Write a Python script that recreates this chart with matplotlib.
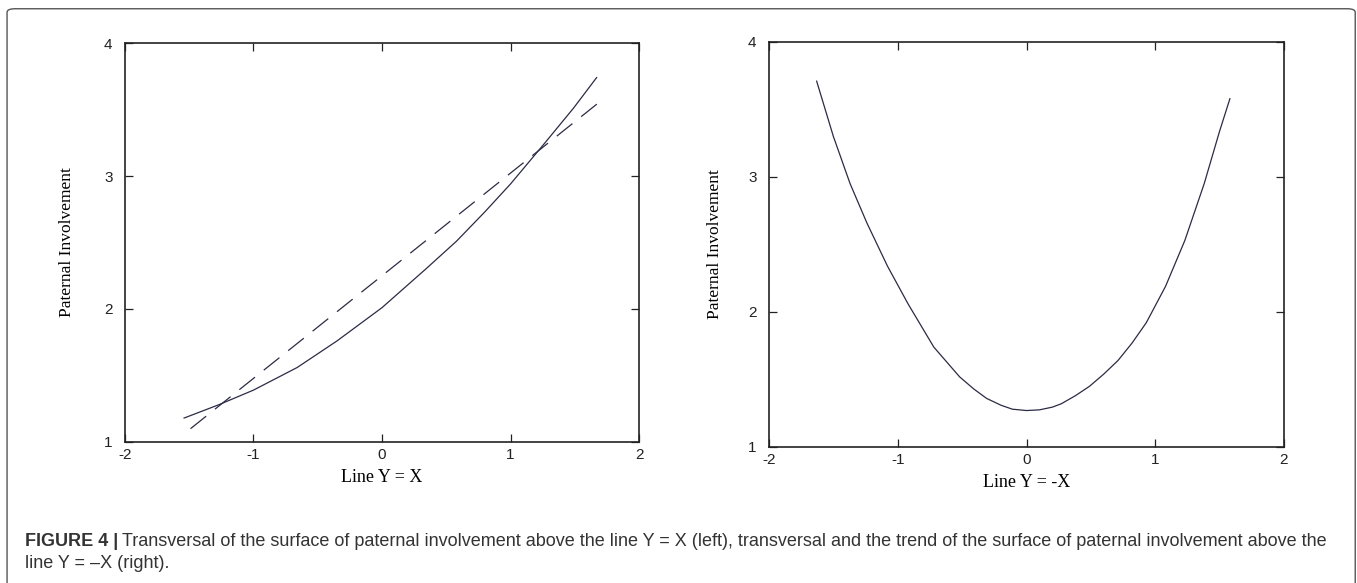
import matplotlib.pyplot as plt
from matplotlib.patches import FancyBboxPatch

plt.rcParams['axes.unicode_minus'] = False

# Left panel: transversal above the line Y = X (solid) and linear trend (dashed)
left_x = [-1.54, -1.27, -1.00, -0.66, -0.35, 0.00, 0.34, 0.58, 0.80, 1.00, 1.26, 1.49, 1.67]
left_y = [1.18, 1.28, 1.39, 1.56, 1.76, 2.01, 2.30, 2.51, 2.73, 2.94, 3.24, 3.51, 3.74]
trend_x = [-1.49, 1.71]
trend_y = [1.10, 3.57]

# Right panel: transversal above the line Y = -X
right_x = [-1.63, -1.50, -1.37, -1.24, -1.08, -0.92, -0.72, -0.52, -0.41, -0.31, -0.20, -0.11,
           0.00, 0.10, 0.20, 0.27, 0.38, 0.49, 0.60, 0.71, 0.82, 0.93, 1.08, 1.23, 1.38, 1.50, 1.58]
right_y = [3.71, 3.30, 2.95, 2.66, 2.34, 2.06, 1.74, 1.52, 1.43, 1.36, 1.31, 1.28,
           1.27, 1.275, 1.295, 1.32, 1.38, 1.45, 1.54, 1.64, 1.77, 1.92, 2.19, 2.53, 2.95, 3.34, 3.58]

xticks = [-2, -1, 0, 1, 2]
yticks = [1, 2, 3, 4]
ylabel = 'Paternal Involvement'
xlabels = ['Line Y = X', 'Line Y = -X']
line_col = '#2b2b45'
cap_fonts = ['Liberation Sans', 'DejaVu Sans']

fig = plt.figure(figsize=(13.57, 5.83), dpi=100)

# rounded frame around the whole figure (bottom edge runs off the picture)
frame = FancyBboxPatch((0.0052, -0.05), 0.9935, 1.035, boxstyle='round,pad=0,rounding_size=0.006',
                       transform=fig.transFigure, fill=False, edgecolor='#555555', linewidth=1.0)
fig.patches.append(frame)

ax1 = fig.add_axes([0.0921, 0.2419, 0.3788, 0.6843])
ax2 = fig.add_axes([0.5667, 0.2333, 0.3795, 0.6947])

ax1.plot(left_x, left_y, color=line_col, linewidth=0.9)
ax1.plot(trend_x, trend_y, color=line_col, linewidth=0.9, dashes=(16, 9))
ax2.plot(right_x, right_y, color=line_col, linewidth=0.9)

for ax, xl, ylx in zip([ax1, ax2], xlabels, [-0.113, -0.105]):
    ax.set_xlim(-2, 2)
    ax.set_ylim(1, 4)
    ax.set_xticks(xticks)
    ax.set_yticks(yticks)
    ax.tick_params(direction='in', length=6, width=0.9, top=True, right=True,
                   labelsize=11, colors='#222222')
    ax.tick_params(axis='y', pad=9)
    ax.tick_params(axis='x', pad=4)
    for lab in ax.get_xticklabels() + ax.get_yticklabels():
        lab.set_family('Liberation Sans')
    for s in ax.spines.values():
        s.set_linewidth(1.2)
        s.set_color('#222222')
    ax.set_ylabel(ylabel, family='Liberation Serif', fontsize=12.5, va='center')
    ax.yaxis.set_label_coords(ylx, 0.5)
    ax.set_xlabel(xl, family='Liberation Serif', fontsize=13, va='center')
    ax.xaxis.set_label_coords(0.5, -0.088)

# caption, bold lead-in followed by regular text
renderer = fig.canvas.get_renderer()
lead = fig.text(0.0184, 0.072, 'FIGURE 4 |', fontsize=13, fontweight='bold', color='#333333',
                family=cap_fonts, va='center')
bb = lead.get_window_extent(renderer).transformed(fig.transFigure.inverted())
fig.text(bb.x1 + 0.003, 0.072, 'Transversal of the surface of paternal involvement above the line Y = X (left), '
         'transversal and the trend of the surface of paternal involvement above the',
         fontsize=13, color='#333333', family=cap_fonts, va='center')
fig.text(0.0184, 0.0343, 'line Y = \u2013X (right).', fontsize=13, color='#333333',
         family=cap_fonts, va='center')

fig.savefig('out.png', dpi=100)
